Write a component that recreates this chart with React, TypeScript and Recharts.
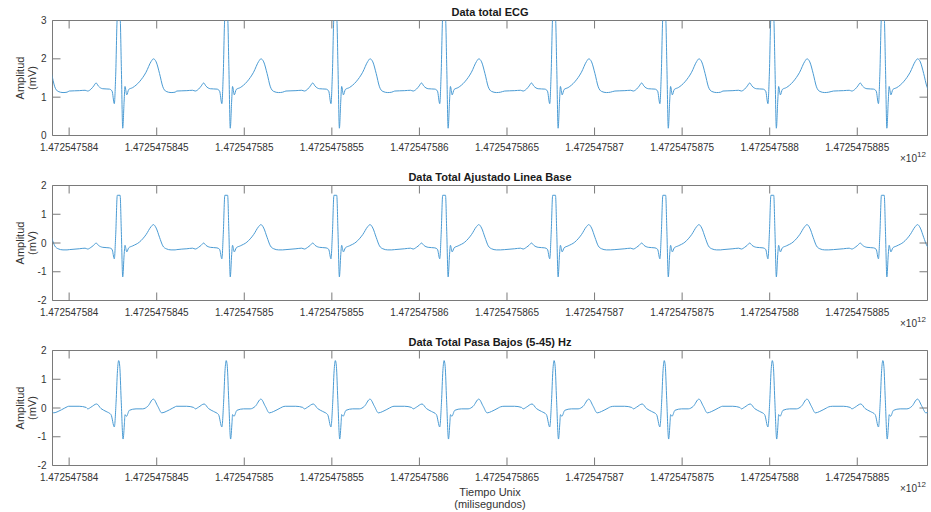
import { LineChart, Line, XAxis, YAxis, ReferenceArea } from 'recharts';

// time axis: milliseconds since epoch, shown in units of 1e12
const T0 = 1472547584000;
const X_MIN = T0 - 95;
const X_MAX = T0 + 4901;

const xTickMs = [0, 500, 1000, 1500, 2000, 2500, 3000, 3500, 4000, 4500];
const xTickLabels = [
  '1.472547584',
  '1.4725475845',
  '1.472547585',
  '1.4725475855',
  '1.472547586',
  '1.4725475865',
  '1.472547587',
  '1.4725475875',
  '1.472547588',
  '1.4725475885',
];

// R-peak times, ms after T0
const rPeaks = [-330, 287, 901, 1524, 2145, 2773, 3402, 4019, 4650];

// one heartbeat, ms relative to the R peak (raw + baseline-corrected traces)
const beatOffsets = [
  -286, -229, -196, -181, -162, -147, -133, -120, -95, -57, -42, -29, -21, -12, 4, 11, 19, 27,
  32, 42, 53, 76, 114, 152, 181, 194, 210, 229, 248, 267, 295, 318,
];
const rawBeat = [
  1.16, 1.17, 1.18, 1.16, 1.21, 1.29, 1.37, 1.29, 1.22, 1.21, 1.16, 0.83, 1.6, 3.06, 3.06, 1.8,
  0.19, 0.9, 1.28, 1.06, 1.2, 1.25, 1.4, 1.65, 1.93, 2.0, 1.92, 1.62, 1.27, 1.15, 1.12, 1.13,
];
const baselineBeat = [
  -0.23, -0.2, -0.18, -0.21, -0.15, -0.08, 0.0, -0.08, -0.15, -0.17, -0.22, -0.55, 0.3, 1.66,
  1.66, 0.4, -1.18, -0.4, -0.08, -0.31, -0.17, -0.1, 0.03, 0.29, 0.57, 0.64, 0.52, 0.2, -0.1,
  -0.2, -0.24, -0.24,
];

// low-pass (5-45 Hz) beat, ms relative to the R peak
const filtOffsets = [
  -290, -230, -190, -181, -162, -130, -105, -76, -48, -29, -19, -11, -4, 2, 10, 21, 29, 32, 40,
  57, 95, 133, 162, 194, 219, 242, 267, 305, 318,
];
const filtBeat = [
  0.06, 0.06, 0.02, -0.03, 0.03, 0.14, -0.02, -0.12, -0.23, -0.66, 0.2, 1.3, 1.65, 1.45, 0.3,
  -1.08, -0.5, -0.23, -0.29, -0.08, -0.03, -0.03, 0.06, 0.31, 0.06, -0.17, -0.12, 0.0, 0.04,
];

const ticksTop = [0, 1, 2, 3];
const ticksCentered = [-2, -1, 0, 1, 2];

type Pt = { t: number; v: number };

function buildTrace(offsets: number[], values: number[]): Pt[] {
  const out: Pt[] = [];
  rPeaks.forEach((r) => {
    offsets.forEach((o, i) => out.push({ t: T0 + r + o, v: values[i] }));
  });
  return out;
}

const rawData = buildTrace(beatOffsets, rawBeat);
const baselineData = buildTrace(beatOffsets, baselineBeat);
const filtData = buildTrace(filtOffsets, filtBeat);

const FONT = '"Liberation Sans", Arial, Helvetica, sans-serif';
const AXIS_COLOR = '#7a7a7a';
const TEXT_COLOR = '#333333';
const LINE_COLOR = '#4b9bd3';

const W = 931;
const PANEL_H = 165;
const PLOT_LEFT = 52.5;
const PLOT_RIGHT = 927.5;
const PLOT_TOP = 20.5;
const PLOT_H = 115;
const PLOT_W = PLOT_RIGHT - PLOT_LEFT;
const TICK_LEN = 8;
const X_GAP = 8;
const Y_GAP = 6;

const XTick = (props: any) => {
  const { x, y, payload } = props;
  const bottom = y - X_GAP;
  const top = bottom - PLOT_H;
  const label = xTickLabels[xTickMs.indexOf(payload.value - T0)];
  return (
    <g>
      <line x1={x} x2={x} y1={bottom} y2={bottom - TICK_LEN} stroke={AXIS_COLOR} />
      <line x1={x} x2={x} y1={top} y2={top + TICK_LEN} stroke={AXIS_COLOR} />
      <text x={x} y={y} dy="0.71em" textAnchor="middle" fontSize={10} fill={TEXT_COLOR} fontFamily={FONT}>
        {label}
      </text>
    </g>
  );
};

const YTick = (props: any) => {
  const { x, y, payload } = props;
  const left = x + Y_GAP;
  const right = left + PLOT_W;
  return (
    <g>
      <line x1={left} x2={left + TICK_LEN} y1={y} y2={y} stroke={AXIS_COLOR} />
      <line x1={right} x2={right - TICK_LEN} y1={y} y2={y} stroke={AXIS_COLOR} />
      <text x={x} y={y} dy="0.35em" textAnchor="end" fontSize={10} fill={TEXT_COLOR} fontFamily={FONT}>
        {payload.value}
      </text>
    </g>
  );
};

const AmpLabel = (props: any) => {
  const vb = props.viewBox || {};
  const cy = vb.y + vb.height / 2;
  return (
    <g fontSize={11} fill={TEXT_COLOR} fontFamily={FONT} textAnchor="middle">
      <text x={20} y={cy} dy="0.35em" transform={`rotate(-90, 20, ${cy})`}>
        Amplitud
      </text>
      <text x={32} y={cy} dy="0.35em" transform={`rotate(-90, 32, ${cy})`}>
        (mV)
      </text>
    </g>
  );
};

interface PanelProps {
  top: number;
  title: string;
  data: Pt[];
  yDomain: [number, number];
  yTicks: number[];
}

function Panel({ top, title, data, yDomain, yTicks }: PanelProps) {
  return (
    <div style={{ position: 'absolute', left: 0, top, width: W, height: PANEL_H }}>
      <div
        style={{
          position: 'absolute',
          left: PLOT_LEFT,
          width: PLOT_W,
          top: 5,
          textAlign: 'center',
          fontFamily: FONT,
          fontWeight: 'bold',
          fontSize: 11,
          color: '#1a1a1a',
          lineHeight: '14px',
        }}
      >
        {title}
      </div>
      <div
        style={{
          position: 'absolute',
          left: 900,
          top: 150,
          fontFamily: FONT,
          fontSize: 10,
          color: TEXT_COLOR,
          lineHeight: '12px',
          whiteSpace: 'nowrap',
        }}
      >
        {'\u00d7'}10<sup style={{ fontSize: 8, position: 'relative', top: -1 }}>12</sup>
      </div>
      <LineChart
        width={W}
        height={PANEL_H}
        data={data}
        margin={{ top: PLOT_TOP, right: W - PLOT_RIGHT, bottom: PANEL_H - PLOT_TOP - PLOT_H - 20, left: 0 }}
      >
        <XAxis
          dataKey="t"
          type="number"
          domain={[X_MIN, X_MAX]}
          allowDataOverflow
          ticks={xTickMs.map((m) => T0 + m)}
          interval={0}
          height={20}
          axisLine={false}
          tickLine={false}
          tickSize={0}
          tickMargin={X_GAP}
          tick={<XTick />}
        />
        <YAxis
          type="number"
          domain={yDomain}
          allowDataOverflow
          ticks={yTicks}
          width={PLOT_LEFT}
          axisLine={false}
          tickLine={false}
          tickSize={0}
          tickMargin={Y_GAP}
          tick={<YTick />}
          label={{ content: <AmpLabel /> }}
        />
        {/* axes box */}
        <ReferenceArea
          x1={X_MIN}
          x2={X_MAX}
          y1={yDomain[0]}
          y2={yDomain[1]}
          ifOverflow="visible"
          fill="none"
          fillOpacity={0}
          stroke={AXIS_COLOR}
          strokeWidth={1}
        />
        <Line
          dataKey="v"
          type="monotone"
          stroke={LINE_COLOR}
          strokeWidth={1}
          dot={false}
          activeDot={false}
          isAnimationActive={false}
        />
      </LineChart>
    </div>
  );
}

export default function App() {
  return (
    <div style={{ position: 'absolute', left: 0, top: 0, width: W, height: 512, background: '#fff' }}>
      <Panel top={0} title="Data total ECG" data={rawData} yDomain={[0, 3]} yTicks={ticksTop} />
      <Panel
        top={PANEL_H}
        title="Data Total Ajustado Linea Base"
        data={baselineData}
        yDomain={[-2, 2]}
        yTicks={ticksCentered}
      />
      <Panel
        top={PANEL_H * 2}
        title="Data Total Pasa Bajos (5-45) Hz"
        data={filtData}
        yDomain={[-2, 2]}
        yTicks={ticksCentered}
      />
      <div
        style={{
          position: 'absolute',
          left: PLOT_LEFT,
          width: PLOT_W,
          top: 486,
          textAlign: 'center',
          fontFamily: FONT,
          fontSize: 11,
          color: TEXT_COLOR,
          lineHeight: '12px',
        }}
      >
        Tiempo Unix
        <br />
        (milisegundos)
      </div>
    </div>
  );
}
